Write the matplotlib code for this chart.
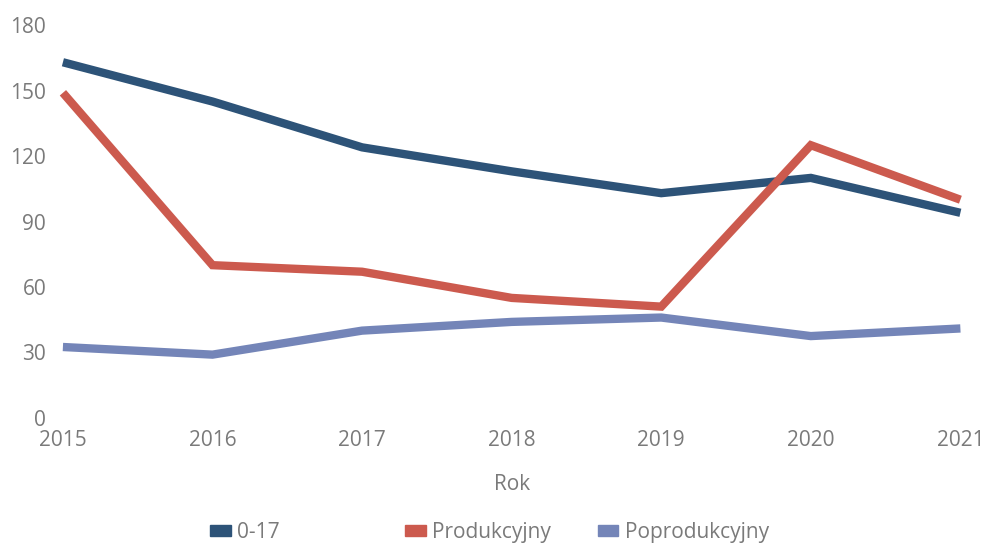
import matplotlib.pyplot as plt
from matplotlib.patches import Patch

plt.rcParams['font.family'] = ['Open Sans', 'DejaVu Sans']

# Data
years = [2015, 2016, 2017, 2018, 2019, 2020, 2021]
przedprodukcyjny = [163, 145, 124, 113, 103, 110, 94]
produkcyjny = [149, 70, 67, 55, 51, 125, 100]
poprodukcyjny = [32.5, 29, 40, 44, 46, 37.5, 41]

labels = ['0-17', 'Produkcyjny', 'Poprodukcyjny']
colors = ['#2d5378', '#cc5a4e', '#7485b8']
series = [przedprodukcyjny, produkcyjny, poprodukcyjny]

fig = plt.figure(figsize=(9.83, 5.47), dpi=100)
ax = fig.add_axes([0.064, 0.236, 0.913, 0.718])

for vals, col in zip(series, colors):
    ax.plot(years, vals, color=col, linewidth=6, solid_capstyle='butt',
            solid_joinstyle='miter', clip_on=False)

ax.set_xlim(2015, 2021)
ax.set_ylim(0, 180)
ax.set_yticks(range(0, 181, 30))
ax.set_xticks(years)
for s in ax.spines.values():
    s.set_visible(False)
ax.tick_params(length=0, labelsize=15, labelcolor='#7a7a7a')
ax.tick_params(axis='y', pad=12)
ax.tick_params(axis='x', pad=9)
ax.set_xlabel('Rok', fontsize=15, color='#7a7a7a', labelpad=16)

# legend entries placed individually to match spacing
xpos = [0.2136, 0.412, 0.608]
for lab, col, x in zip(labels, colors, xpos):
    fig.legend(handles=[Patch(color=col)], labels=[lab], loc='center left',
               bbox_to_anchor=(x, 0.027), frameon=False, fontsize=15,
               labelcolor='#7a7a7a', handlelength=1.0, handleheight=0.45,
               handletextpad=0.3, borderaxespad=0, borderpad=0)

plt.savefig('out.png', dpi=100)
